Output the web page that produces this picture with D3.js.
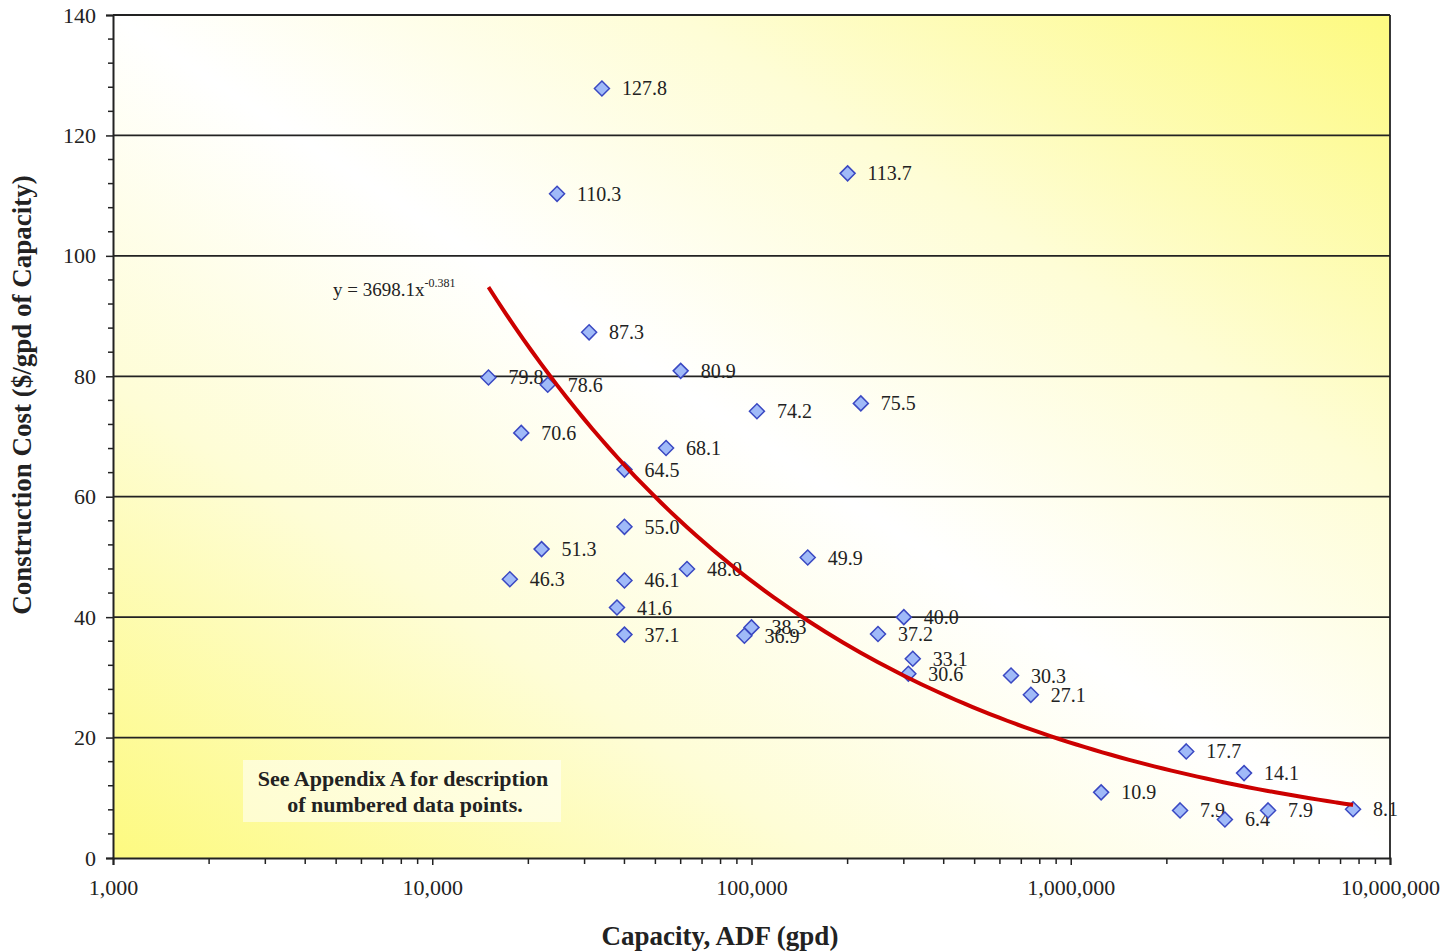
<!DOCTYPE html>
<html>
<head>
<meta charset="utf-8">
<script src="https://cdn.jsdelivr.net/npm/d3@7"></script>
<style>
  body { margin: 0; background: #fff; }
  text { font-family: "Liberation Serif", "Times New Roman", serif; fill: #222; }
</style>
</head>
<body>
<div id="chart"></div>
<script>
// capacity (gpd) and construction cost ($/gpd)
const capacity = [34000, 24600, 200000, 31000, 15000, 23000, 60000, 104000, 220000, 19000,
                  54000, 40000, 40000, 22000, 17500, 40000, 62800, 150000, 37900, 40000,
                  100000, 95000, 249000, 300000, 320000, 310000, 650000, 750000,
                  2300000, 3490000, 1245000, 2200000, 3040000, 4150000, 7660000];
const cost = [127.8, 110.3, 113.7, 87.3, 79.8, 78.6, 80.9, 74.2, 75.5, 70.6,
              68.1, 64.5, 55.0, 51.3, 46.3, 46.1, 48.0, 49.9, 41.6, 37.1,
              38.3, 36.9, 37.2, 40.0, 33.1, 30.6, 30.3, 27.1,
              17.7, 14.1, 10.9, 7.9, 6.4, 7.9, 8.1];

// power trendline y = a * x^b
const fitA = 3698.1;
const fitB = -0.381;
const fitRange = [15000, 7660000];

const xTicks = [1e3, 1e4, 1e5, 1e6, 1e7];
const yTicks = [0, 20, 40, 60, 80, 100, 120, 140];

const width = 1445, height = 951;
const margin = {left: 113, right: 55, top: 15, bottom: 93};
const pw = width - margin.left - margin.right;
const ph = height - margin.top - margin.bottom;

let svg = d3.select("#chart").append("svg")
    .attr("width", width)
    .attr("height", height);

let x = d3.scaleLog().domain([1e3, 1e7]).range([margin.left, margin.left + pw]);
let y = d3.scaleLinear().domain([0, 140]).range([margin.top + ph, margin.top]);

// background gradient: yellow in the top-right and bottom-left corners
let defs = svg.append("defs");
let grad = defs.append("linearGradient")
    .attr("id", "bg")
    .attr("x1", 0).attr("y1", 1).attr("x2", 1).attr("y2", 0);
grad.append("stop").attr("offset", "0%").attr("stop-color", "#fdfa80");
grad.append("stop").attr("offset", "28%").attr("stop-color", "#fefdd6");
grad.append("stop").attr("offset", "50%").attr("stop-color", "#ffffff");
grad.append("stop").attr("offset", "72%").attr("stop-color", "#fefdd6");
grad.append("stop").attr("offset", "100%").attr("stop-color", "#fdfa80");

svg.append("rect")
    .attr("x", margin.left).attr("y", margin.top)
    .attr("width", pw).attr("height", ph)
    .attr("fill", "url(#bg)");

// horizontal gridlines
svg.append("g")
    .selectAll("line")
    .data(yTicks.slice(1))
    .enter()
    .append("line")
    .attr("x1", margin.left).attr("x2", margin.left + pw)
    .attr("y1", d => y(d)).attr("y2", d => y(d))
    .attr("stroke", "#222")
    .attr("stroke-width", 1.8);

// right border
svg.append("line")
    .attr("x1", margin.left + pw).attr("x2", margin.left + pw)
    .attr("y1", margin.top).attr("y2", margin.top + ph)
    .attr("stroke", "#222").attr("stroke-width", 1.8);

// y axis with minor ticks every 4
let yMinor = d3.range(0, 141, 4).filter(d => d % 20 !== 0);
let yAxisG = svg.append("g").attr("transform", `translate(${margin.left},0)`);
yAxisG.call(d3.axisLeft(y).tickValues(yTicks).tickSize(7).tickPadding(10).tickFormat(d3.format("d")));
yAxisG.selectAll(".tick text").style("font-size", "22px").attr("fill", "#222");
yAxisG.select(".domain").attr("stroke", "#222").attr("stroke-width", 2);
yAxisG.selectAll(".tick line").attr("stroke", "#222").attr("stroke-width", 1.5);
yAxisG.append("g")
    .selectAll("line")
    .data(yMinor)
    .enter()
    .append("line")
    .attr("x1", -5).attr("x2", 0)
    .attr("y1", d => y(d)).attr("y2", d => y(d))
    .attr("stroke", "#222").attr("stroke-width", 1.5);

// x axis with log minor ticks
let xMinor = [];
for (let p = 1e3; p < 1e7; p *= 10) {
    for (let k = 2; k <= 9; k++) xMinor.push(p * k);
}
let xAxisG = svg.append("g").attr("transform", `translate(0,${margin.top + ph})`);
xAxisG.call(d3.axisBottom(x).tickValues(xTicks).tickSize(7).tickPadding(14).tickFormat(d3.format(",")));
xAxisG.selectAll(".tick text").style("font-size", "22px").attr("fill", "#222");
xAxisG.select(".domain").attr("stroke", "#222").attr("stroke-width", 2);
xAxisG.selectAll(".tick line").attr("stroke", "#222").attr("stroke-width", 1.5);
xAxisG.append("g")
    .selectAll("line")
    .data(xMinor)
    .enter()
    .append("line")
    .attr("x1", d => x(d)).attr("x2", d => x(d))
    .attr("y1", 0).attr("y2", 6)
    .attr("stroke", "#222").attr("stroke-width", 1.5);

// axis titles
svg.append("text")
    .attr("transform", `translate(31,395) rotate(-90)`)
    .attr("text-anchor", "middle")
    .style("font-size", "27px")
    .style("font-weight", "bold")
    .text("Construction Cost ($/gpd of Capacity)");

svg.append("text")
    .attr("x", 720).attr("y", 945)
    .attr("text-anchor", "middle")
    .style("font-size", "27px")
    .style("font-weight", "bold")
    .text("Capacity, ADF (gpd)");

// trendline
let fitX = d3.range(0, 101).map(i => Math.pow(10,
    Math.log10(fitRange[0]) + i / 100 * (Math.log10(fitRange[1]) - Math.log10(fitRange[0]))));
let line = d3.line()
    .x(d => x(d))
    .y(d => y(fitA * Math.pow(d, fitB)))
    .curve(d3.curveMonotoneX);

// points
let pts = svg.append("g")
    .selectAll("g")
    .data(capacity.map((c, i) => ({c: c, v: cost[i]})))
    .enter()
    .append("g")
    .attr("transform", d => `translate(${x(d.c)},${y(d.v)})`);

pts.append("path")
    .attr("d", "M0,-7.5L7.5,0L0,7.5L-7.5,0Z")
    .attr("fill", "#a0baf8")
    .attr("stroke", "#3a48c2")
    .attr("stroke-width", 1.5);

pts.append("text")
    .attr("x", 20).attr("y", 7)
    .style("font-size", "20px")
    .attr("fill", "#2a2a2a")
    .text(d => d.v.toFixed(1));

svg.append("path")
    .datum(fitX)
    .attr("d", line)
    .attr("fill", "none")
    .attr("stroke", "#cc0000")
    .attr("stroke-width", 4);

// equation label
let eq = svg.append("text")
    .attr("x", 333).attr("y", 296)
    .style("font-size", "19px");
eq.append("tspan").text(`y = ${fitA}x`);
eq.append("tspan").attr("dy", -9).style("font-size", "12px").text(fitB.toFixed(3));

// note box
svg.append("rect")
    .attr("x", 243).attr("y", 760)
    .attr("width", 318).attr("height", 62)
    .attr("fill", "#ffffff").attr("fill-opacity", 0.55);

let note = svg.append("text")
    .attr("text-anchor", "middle")
    .style("font-size", "22px")
    .style("font-weight", "bold");
note.append("tspan").attr("x", 403).attr("y", 786).text("See Appendix A for description");
note.append("tspan").attr("x", 405).attr("y", 812).text("of numbered data points.");
</script>
</body>
</html>
